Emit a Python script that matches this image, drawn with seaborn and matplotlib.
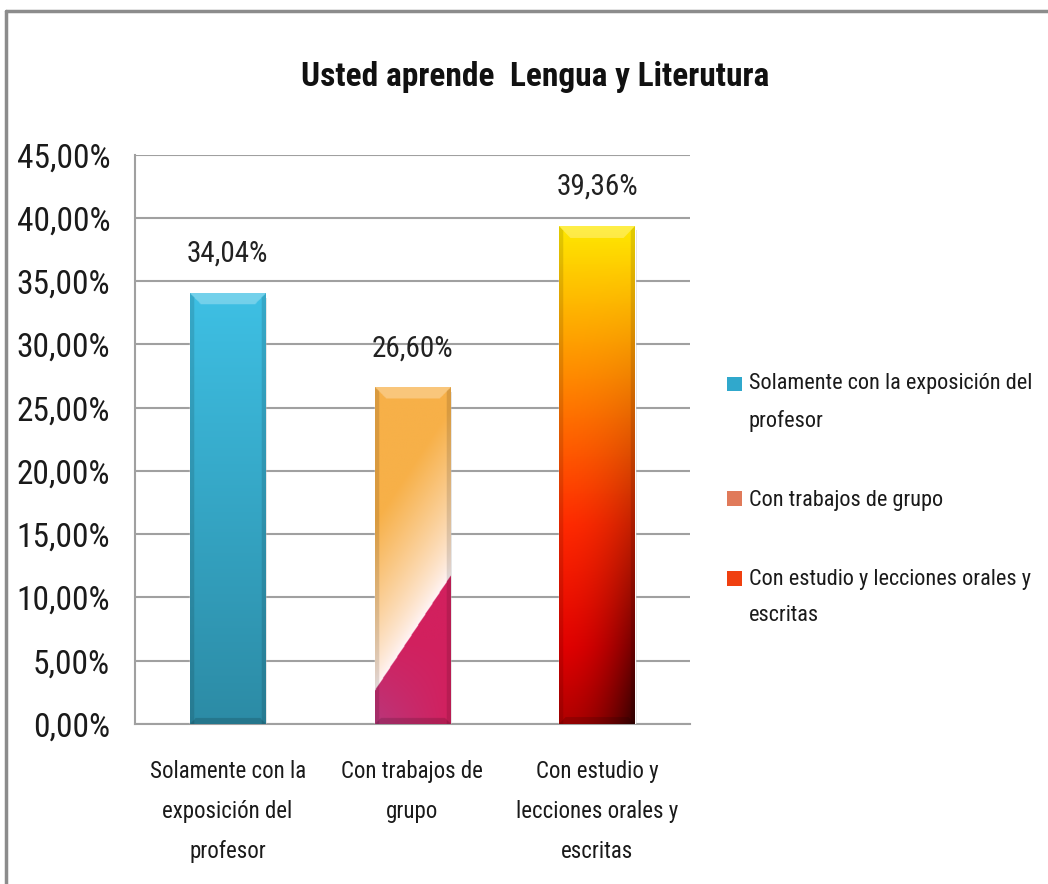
import numpy as np
import pandas as pd
import seaborn as sns
import matplotlib.pyplot as plt
from matplotlib import font_manager
from matplotlib.colors import LinearSegmentedColormap, to_rgb
from matplotlib.patches import Patch, Rectangle
from matplotlib.legend_handler import HandlerPatch
from matplotlib.lines import Line2D
from matplotlib.ticker import MultipleLocator, FuncFormatter

# data
categories = [
    "Solamente con la\nexposición del\nprofesor",
    "Con trabajos de\ngrupo",
    "Con estudio y\nlecciones orales y\nescritas",
]
legend_labels = [
    "Solamente con la exposición del\nprofesor",
    "Con trabajos de grupo",
    "Con estudio y lecciones orales y\nescritas",
]
values = [34.04, 26.60, 39.36]
value_labels = ["34,04%", "26,60%", "39,36%"]
base_colors = ["#37AED3", "#F5B35A", "#FF6A00"]
legend_colors = ["#30A8CC", "#E07A5A", "#F04010"]
title = "Usted aprende  Lengua y Literutura"

sns.set_style("white")
installed = {f.name for f in font_manager.fontManager.ttflist}
narrow = [f for f in ["Liberation Sans Narrow", "Roboto Condensed", "Open Sans Condensed",
                      "Liberation Sans"] if f in installed]
plt.rcParams['font.family'] = narrow[:1] + ['DejaVu Sans']

df = pd.DataFrame({"cat": categories, "val": values})

fig = plt.figure(figsize=(10.48, 8.84), dpi=100)
ax = fig.add_axes([0.129, 0.181, 0.529, 0.644])

sns.barplot(data=df, x="cat", y="val", hue="cat", palette=base_colors,
            width=0.41, legend=False, ax=ax, zorder=3)


def grad_blue(u, v):
    top = np.array(to_rgb("#3EC0E4"))
    bot = np.array(to_rgb("#2C8BA5"))
    return bot[None, None, :] * (1 - v[..., None]) + top[None, None, :] * v[..., None]


def grad_group(u, v):
    d = v - (0.10 + 0.34 * u)
    crimson = np.array(to_rgb("#D2205E"))
    purple = np.array(to_rgb("#A04E98"))
    orange = np.array(to_rgb("#F7B048"))
    white = np.array([1.0, 0.96, 0.97])
    mix = 0.5 * (1 - u[..., None]) * (1 - v[..., None] * 4).clip(0, 1)
    low = crimson[None, None, :] * (1 - mix) + purple[None, None, :] * mix
    t = (d / 0.5).clip(0, 1)[..., None] ** 0.8
    high = white[None, None, :] * (1 - t) + orange[None, None, :] * t
    return np.where((d < 0)[..., None], low, high)


fire = LinearSegmentedColormap.from_list(
    "fire", [(0.0, "#B00000"), (0.15, "#E00000"), (0.4, "#FF2A00"),
             (0.7, "#FF8A00"), (0.9, "#FFC800"), (1.0, "#FFE800")])


def grad_fire(u, v):
    c = fire(v)[..., :3]
    dark = (u * (1 - v)).clip(0, 1) ** 2
    return c * (1 - 0.7 * dark[..., None])


def bevel(img, u, v, hpx, wpx, b=11):
    dt = (1 - v) * hpx
    db = v * hpx
    ds = np.minimum(u, 1 - u) * wpx
    out = img.copy()
    top = (dt < b) & (dt < ds)
    out[top] = out[top] * 0.72 + 0.28
    side = (ds < 4) & ~top
    out[side] = out[side] * 0.88
    bot = (db < 6) & (db < ds)
    out[bot] = out[bot] * 0.85
    return out


grads = [grad_blue, grad_group, grad_fire]
for patch, fn in zip(ax.patches, grads):
    x0, y0 = patch.get_x(), patch.get_y()
    w, h = patch.get_width(), patch.get_height()
    uu, vv = np.meshgrid(np.linspace(0, 1, 160), np.linspace(1, 0, 500))
    img = fn(uu, vv)
    img = bevel(img, uu, vv, h * 12.65, 76).clip(0, 1)
    im = ax.imshow(img, extent=[x0, x0 + w, y0, y0 + h], aspect="auto",
                   zorder=4, interpolation="bilinear")
    im.set_clip_path(patch)
    # soft shadow under the bar
    ax.add_patch(plt.Rectangle((x0 + 0.01, -0.35), w, h, facecolor="#888888",
                               alpha=0.25, edgecolor="none", zorder=2.5))

ax.set_xlim(-0.5, 2.5)
ax.set_ylim(0, 45)
ax.yaxis.set_major_locator(MultipleLocator(5))
ax.yaxis.set_major_formatter(FuncFormatter(lambda y, _: f"{y:.2f}%".replace(".", ",")))
ax.grid(axis="y", color="#A0A0A0", linewidth=1.5, zorder=0)
ax.set_axisbelow(True)
for s in ["top", "right"]:
    ax.spines[s].set_visible(False)
for s in ["left", "bottom"]:
    ax.spines[s].set_color("#A0A0A0")
    ax.spines[s].set_linewidth(1.5)
ax.set_xlabel("")
ax.set_ylabel("")
ax.tick_params(axis="y", labelsize=24, length=0, pad=18, labelcolor="#1a1a1a")
ax.tick_params(axis="x", labelsize=16.5, length=0, pad=26, labelcolor="#1a1a1a")
for lbl in ax.get_xticklabels():
    lbl.set_linespacing(1.95)

for i, (v, lab) in enumerate(zip(values, value_labels)):
    ax.text(i, v + 2.0, lab, ha="center", va="bottom", fontsize=21, color="#222222", zorder=5)

fig.text(0.511, 0.913, title, ha="center", va="center", fontsize=24, fontweight="bold",
         color="#111111")


def make_handle(shift):
    # place the square next to the first line of a wrapped label
    def f(legend, orig_handle, xdescent, ydescent, width, height, fontsize):
        return Rectangle((-xdescent, -ydescent + shift), width, height)
    return HandlerPatch(patch_func=f)


handles = [Patch(facecolor=c, edgecolor="none") for c in legend_colors]
shifts = [13.5 if "\n" in lab else 0 for lab in legend_labels]
leg = fig.legend(handles, legend_labels, loc="center left", bbox_to_anchor=(0.675, 0.435),
                 frameon=False, fontsize=16, handlelength=0.65, handleheight=0.65,
                 handletextpad=0.3, labelspacing=2.6,
                 handler_map={h: make_handle(s) for h, s in zip(handles, shifts)})
for t in leg.get_texts():
    t.set_linespacing(1.95)
    t.set_color("#1a1a1a")

# outer chart border (top and left visible)
fig.add_artist(Line2D([0.006, 1.0], [0.988, 0.988], color="#8C8C8C", linewidth=2.5))
fig.add_artist(Line2D([0.006, 0.006], [0.0, 0.988], color="#8C8C8C", linewidth=2.5))

fig.savefig("out.png", dpi=100)
